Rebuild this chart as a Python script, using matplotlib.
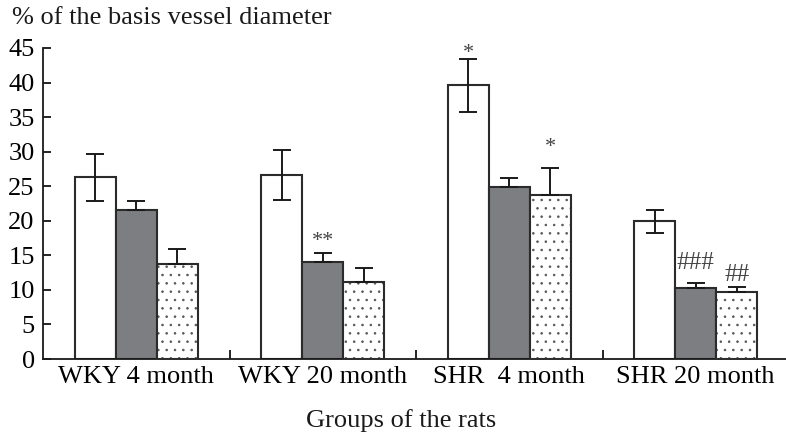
import numpy as np
import matplotlib
matplotlib.use("Agg")
import matplotlib.pyplot as plt

# data
groups = ["WKY 4 month", "WKY 20 month", "SHR  4 month", "SHR 20 month"]
white_vals = [26.3, 26.6, 39.6, 19.9]
white_err = [3.4, 3.6, 3.8, 1.7]
gray_vals = [21.5, 14.1, 24.9, 10.3]
gray_err = [1.3, 1.3, 1.3, 0.7]
dot_vals = [13.7, 11.1, 23.7, 9.7]
dot_err = [2.2, 2.1, 4.0, 0.75]

# significance marks: (group, bar index, label, y)
marks = [(1, 1, "**", 17.0), (2, 0, "*", 44.2), (2, 2, "*", 30.6),
         (3, 1, "###", 13.9), (3, 2, "##", 12.2)]

plt.rcParams["font.family"] = ["Liberation Serif", "DejaVu Serif"]
plt.rcParams["hatch.linewidth"] = 0.6

fig = plt.figure(figsize=(7.86, 4.34), dpi=100)
ax = fig.add_axes([43 / 786, 1 - 359 / 434, 746 / 786, 311 / 434])

x = np.arange(len(groups))
w = 0.22
edge = "#2b2b2b"
ebar = dict(ecolor="#1a1a1a", elinewidth=1.4, capsize=6.5, capthick=1.4)

ax.bar(x - w, white_vals, w, color="white", edgecolor=edge, linewidth=1.5,
       yerr=white_err, error_kw=ebar, zorder=2)
ax.bar(x, gray_vals, w, color="#7d7e82", edgecolor=edge, linewidth=1.5,
       yerr=[np.zeros(4), gray_err], error_kw=ebar, zorder=2)
# dotted fill (gray dots) and then the dark outline on top
ax.bar(x + w, dot_vals, w, color="white", edgecolor="#555555", linewidth=0,
       hatch="..", zorder=2)
ax.bar(x + w, dot_vals, w, fill=False, edgecolor=edge, linewidth=1.5,
       yerr=[np.zeros(4), dot_err], error_kw=ebar, zorder=3)

for g, b, lab, yy in marks:
    ax.text(x[g] + (b - 1) * w, yy, lab, ha="center", va="center",
            fontsize=18 if "#" in lab else 16, color="#444444")

ax.set_ylim(0, 45)
ax.set_xlim(-0.5, 3.5)
ax.set_yticks(range(0, 46, 5))
ax.set_xticks(x)
ax.set_xticklabels(groups)
ax.set_xticks([0.5, 1.5, 2.5], minor=True)
ax.tick_params(axis="y", direction="in", length=6, width=1.2, labelsize=19, pad=6)
ax.tick_params(axis="x", which="major", length=0, labelsize=19, pad=5)
ax.tick_params(axis="x", which="minor", direction="in", length=6.5, width=1.2)
for s in ["top", "right"]:
    ax.spines[s].set_visible(False)
for s in ["left", "bottom"]:
    ax.spines[s].set_linewidth(1.3)
    ax.spines[s].set_color("#1a1a1a")

fig.text(12 / 786, 1 - 18 / 434, "% of the basis vessel diameter",
         fontsize=19, ha="left", va="center", color="#1a1a1a")
fig.text(401 / 786, 1 - 421 / 434, "Groups of the rats",
         fontsize=19, ha="center", va="center", color="#1a1a1a")

fig.savefig("out.png", dpi=100)
